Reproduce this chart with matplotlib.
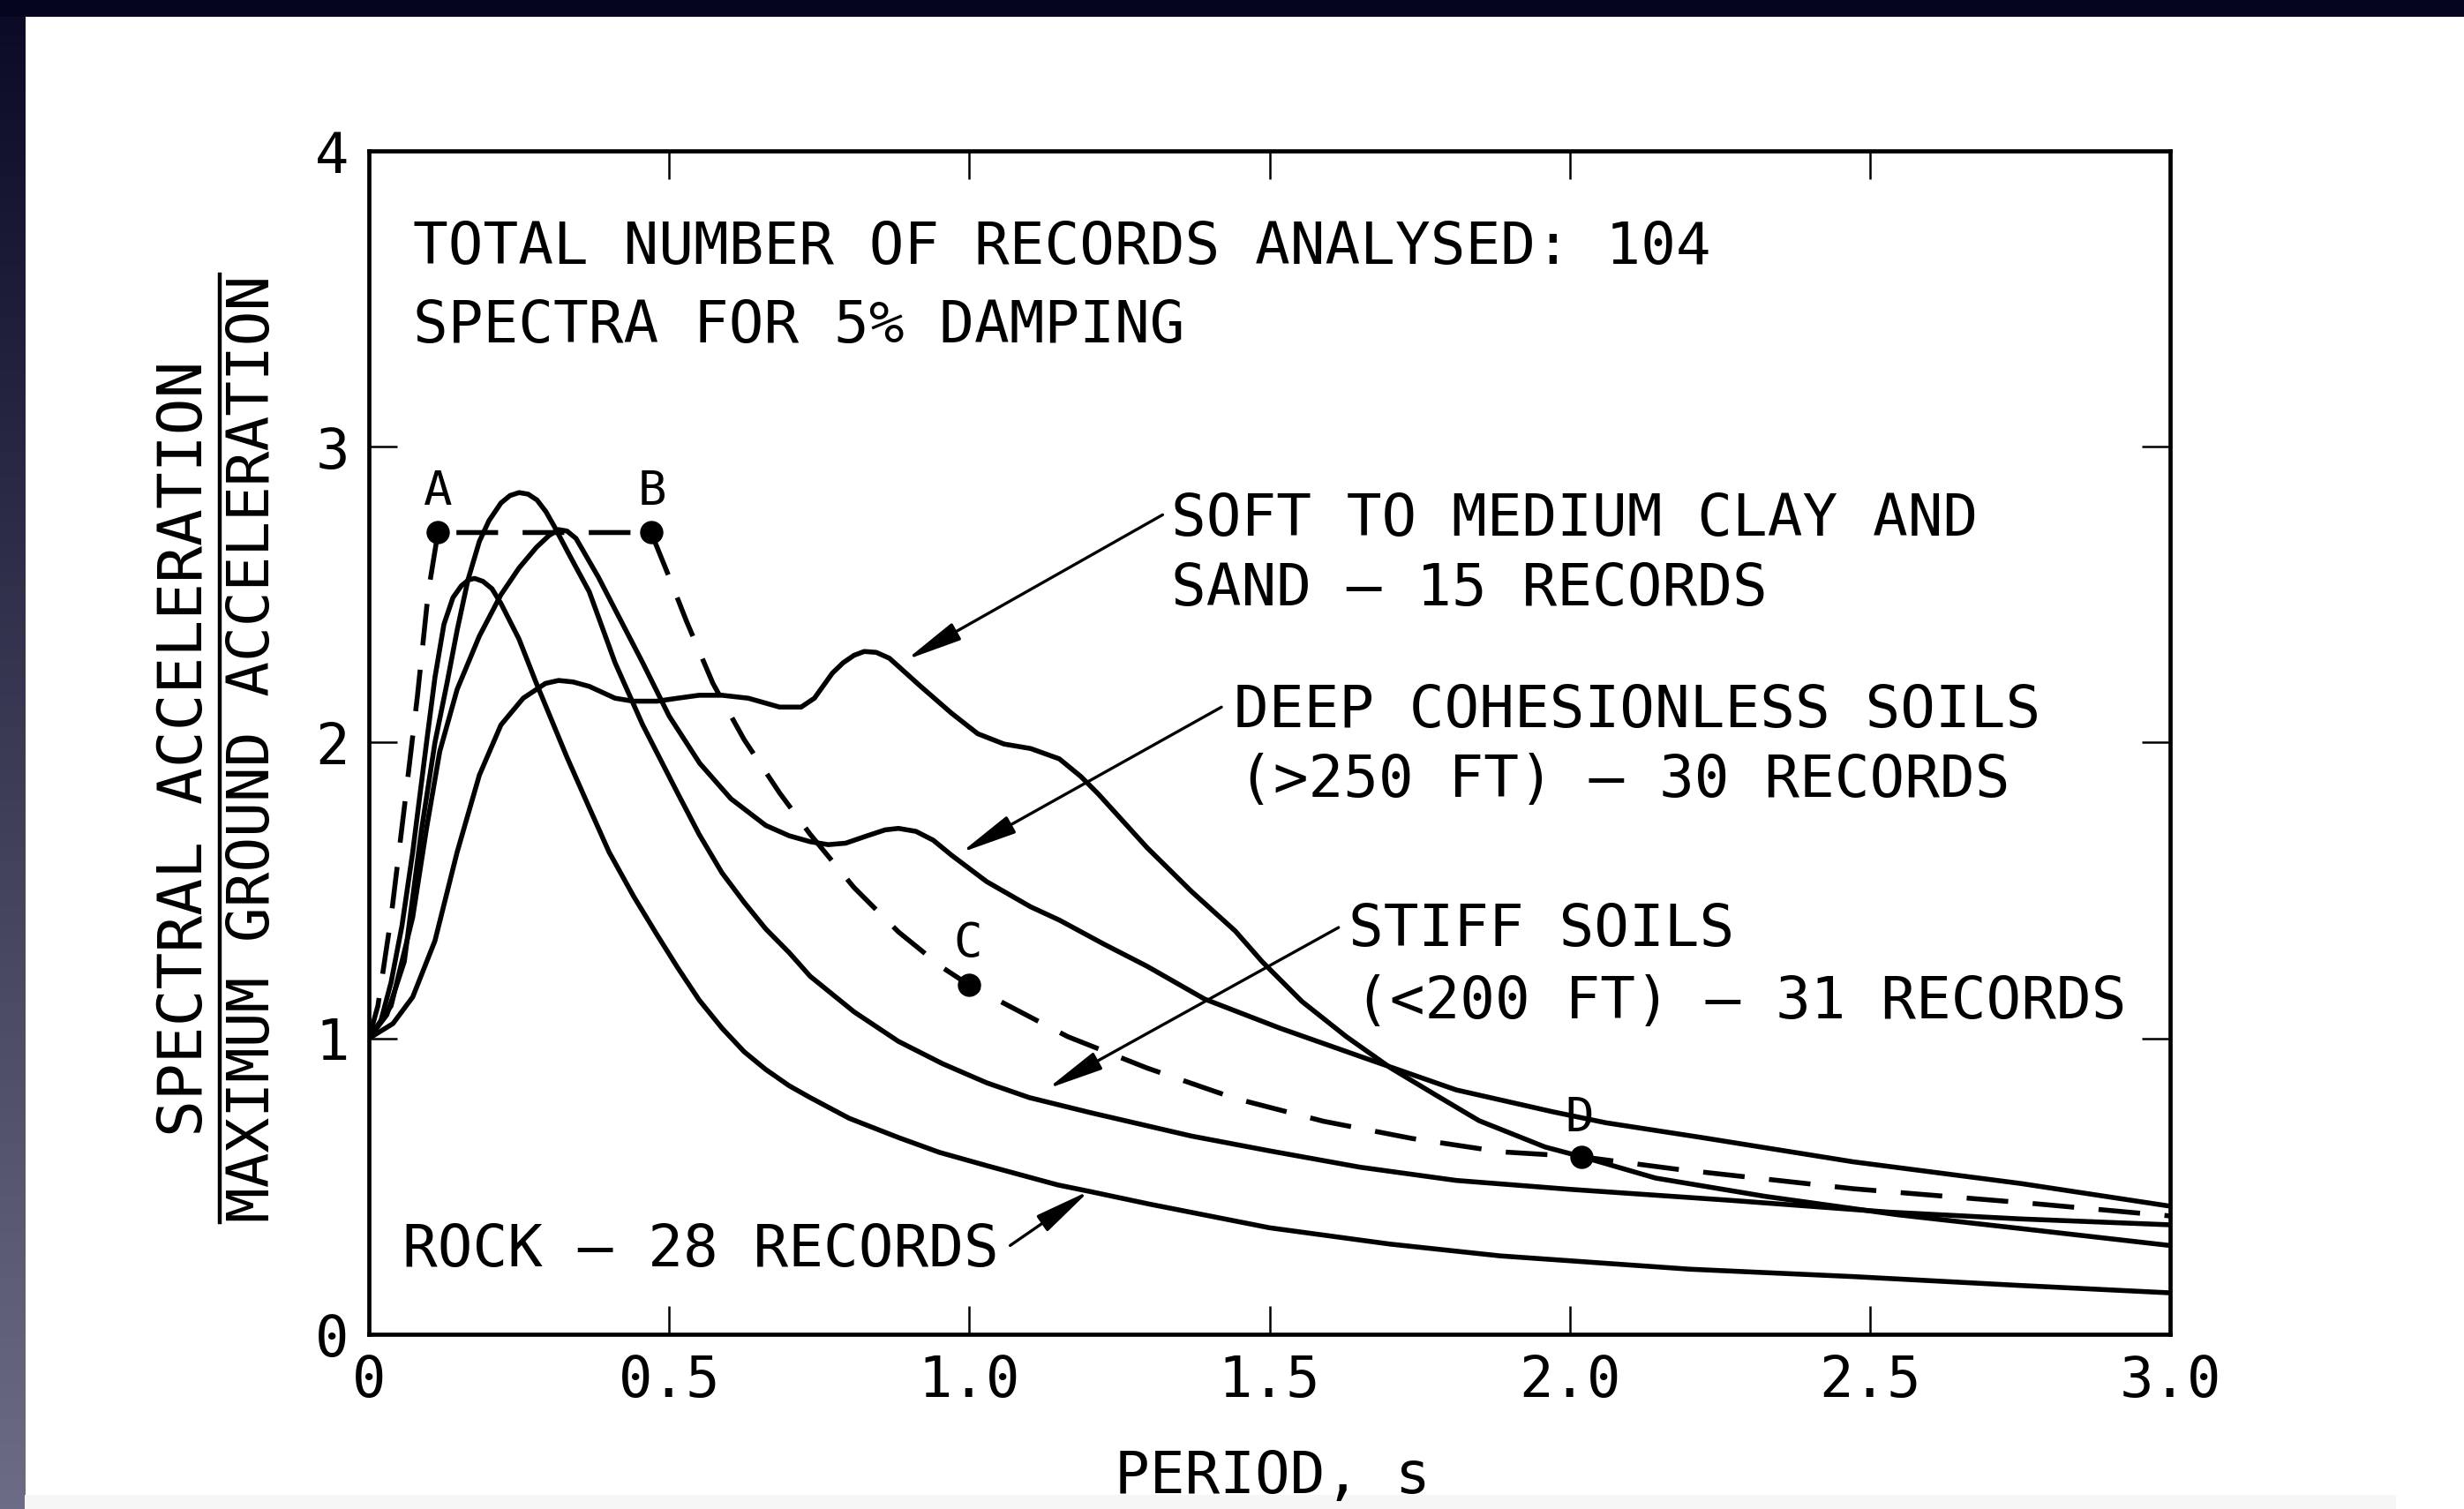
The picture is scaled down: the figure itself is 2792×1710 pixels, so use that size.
import numpy as np
import matplotlib
matplotlib.use("Agg")
import matplotlib.pyplot as plt
from matplotlib.patches import Rectangle
from matplotlib.lines import Line2D

plt.rcParams['font.family'] = ['DejaVu Sans Mono', 'DejaVu Sans']

# ---------------- data ----------------
rock_T = [0, 0.02, 0.037, 0.055, 0.073, 0.096, 0.11, 0.125, 0.14, 0.154, 0.166, 0.176, 0.19,
          0.205, 0.22, 0.25, 0.279, 0.33, 0.367, 0.40, 0.441, 0.48, 0.514, 0.55, 0.588, 0.625,
          0.661, 0.70, 0.735, 0.80, 0.882, 0.95, 1.029, 1.147, 1.2, 1.3, 1.4, 1.5, 1.7, 1.884,
          2.2, 2.472, 2.75, 3.0]
rock_SA = [1.0, 1.06, 1.19, 1.38, 1.63, 2.0, 2.22, 2.40, 2.49, 2.53, 2.55, 2.555, 2.545,
           2.52, 2.47, 2.35, 2.20, 1.95, 1.78, 1.63, 1.48, 1.35, 1.24, 1.13, 1.035, 0.955,
           0.895, 0.84, 0.80, 0.73, 0.665, 0.615, 0.57, 0.505, 0.483, 0.44, 0.40, 0.36, 0.305,
           0.265, 0.22, 0.195, 0.165, 0.14]

stiff_T = [0, 0.03, 0.059, 0.088, 0.11, 0.13, 0.147, 0.165, 0.184, 0.20, 0.22, 0.235, 0.25, 0.265,
           0.28, 0.295, 0.309, 0.335, 0.367, 0.41, 0.456, 0.514, 0.55, 0.588, 0.625, 0.661, 0.70, 0.735,
           0.808, 0.882, 0.955, 1.029, 1.1, 1.2, 1.37, 1.5, 1.65, 1.811, 2.0, 2.266, 2.531,
           2.75, 3.0]
stiff_SA = [1.0, 1.08, 1.26, 1.71, 2.0, 2.2, 2.38, 2.55, 2.68, 2.75, 2.81, 2.835, 2.845, 2.84,
            2.82, 2.78, 2.73, 2.63, 2.51, 2.27, 2.06, 1.83, 1.69, 1.56, 1.46, 1.37, 1.29, 1.21,
            1.09, 0.99, 0.915, 0.85, 0.80, 0.75, 0.67, 0.62, 0.565, 0.52, 0.49, 0.453, 0.413,
            0.39, 0.37]

deep_T = [0, 0.037, 0.073, 0.096, 0.118, 0.147, 0.184, 0.22, 0.25, 0.279, 0.30, 0.316, 0.33,
          0.345, 0.382, 0.41, 0.456, 0.5, 0.551, 0.603, 0.661, 0.70, 0.735, 0.765, 0.794, 0.83,
          0.86, 0.882, 0.911, 0.94, 0.97, 1.029, 1.102, 1.15, 1.223, 1.296, 1.392, 1.517, 1.664, 1.811,
          1.972, 2.06, 2.22, 2.472, 2.75, 3.0]
deep_SA = [1.0, 1.11, 1.41, 1.71, 1.97, 2.18, 2.36, 2.50, 2.59, 2.66, 2.70, 2.72, 2.715,
           2.69, 2.56, 2.45, 2.27, 2.09, 1.93, 1.81, 1.72, 1.685, 1.665, 1.655, 1.66, 1.685,
           1.705, 1.71, 1.70, 1.67, 1.62, 1.53, 1.445, 1.40, 1.32, 1.244, 1.133, 1.035, 0.93, 0.826,
           0.752, 0.715, 0.665, 0.583, 0.51, 0.433]

soft_T = [0, 0.04, 0.073, 0.11, 0.147, 0.184, 0.22, 0.257, 0.294, 0.316, 0.34, 0.367, 0.41, 0.44,
          0.48, 0.514, 0.55, 0.588, 0.632, 0.684, 0.72, 0.742, 0.772, 0.79, 0.808, 0.825, 0.845,
          0.867, 0.919, 0.97, 1.014, 1.058, 1.102, 1.15, 1.186, 1.215, 1.296, 1.37, 1.443, 1.488,
          1.554, 1.628, 1.702, 1.775, 1.849, 1.959, 2.024, 2.143, 2.326, 2.546, 2.766, 3.0]
soft_SA = [1.0, 1.05, 1.14, 1.33, 1.63, 1.89, 2.06, 2.15, 2.20, 2.21, 2.205, 2.19, 2.15, 2.14,
           2.14, 2.15, 2.16, 2.16, 2.15, 2.12, 2.12, 2.15, 2.235, 2.27, 2.295, 2.308, 2.305,
           2.285, 2.19, 2.10, 2.03, 1.995, 1.98, 1.945, 1.885, 1.826, 1.645, 1.497, 1.363, 1.259,
           1.125, 1.006, 0.90, 0.811, 0.722, 0.633, 0.598, 0.528, 0.466, 0.404, 0.354, 0.30]

design_T = [0, 0.015, 0.037, 0.059, 0.081, 0.099, 0.115, 0.47, 0.5, 0.529, 0.573, 0.625, 0.684,
            0.735, 0.808, 0.882, 0.955, 1.0, 1.066, 1.164, 1.296, 1.443, 1.59, 1.737, 1.884, 2.02,
            2.178, 2.472, 2.766, 3.0]
design_SA = [1.0, 1.11, 1.41, 1.78, 2.16, 2.51, 2.71, 2.71, 2.56, 2.41, 2.20, 2.01, 1.83,
             1.69, 1.51, 1.36, 1.24, 1.18, 1.11, 1.006, 0.90, 0.797, 0.72, 0.662, 0.617, 0.600,
             0.558, 0.492, 0.443, 0.40]

point_T = [0.115, 0.47, 1.0, 2.02]
point_SA = [2.71, 2.71, 1.18, 0.60]
point_labels = ['A', 'B', 'C', 'D']

x_ticks = [0, 0.5, 1.0, 1.5, 2.0, 2.5, 3.0]
x_ticklabels = ['0', '0.5', '1.0', '1.5', '2.0', '2.5', '3.0']
y_ticks = [0, 1, 2, 3, 4]
y_ticklabels = ['0', '1', '2', '3', '4']

# ---------------- figure ----------------
W, H = 2792, 1710
fig = plt.figure(figsize=(W / 100, H / 100), dpi=100)
fig.patch.set_facecolor('white')

# slide frame: dark top band, gradient left band, light bottom strip
fig.patches.append(Rectangle((0, 1 - 19 / H), 1, 19 / H, transform=fig.transFigure,
                             facecolor='#05051f', edgecolor='none', zorder=0))
fig.patches.append(Rectangle((28 / W, 0), (2715 - 28) / W, 16 / H, transform=fig.transFigure,
                             facecolor='#f6f6f6', edgecolor='none', zorder=0))
gax = fig.add_axes([0, 0, 28 / W, 1])
grad = np.linspace(0, 1, 256)[:, None]
top_c = np.array([10, 10, 38]) / 255
bot_c = np.array([108, 108, 134]) / 255
img = top_c[None, None, :] * (1 - grad[:, :, None]) + bot_c[None, None, :] * grad[:, :, None]
gax.imshow(img, aspect='auto', extent=[0, 1, 0, 1], origin='upper')
gax.axis('off')

L, R, T, B = 418, 2459, 171, 1512
ax = fig.add_axes([L / W, 1 - B / H, (R - L) / W, (B - T) / H])
ax.set_xlim(0, 3.0)
ax.set_ylim(0, 4)

lw = 4.0
kw = dict(color='black', lw=lw, solid_joinstyle='round', solid_capstyle='round')
ax.plot(rock_T, rock_SA, **kw)
ax.plot(stiff_T, stiff_SA, **kw)
ax.plot(deep_T, deep_SA, **kw)
ax.plot(soft_T, soft_SA, **kw)
ax.plot(design_T, design_SA, color='black', lw=lw, dashes=(8.5, 5.0),
        dash_capstyle='butt')
ax.plot(point_T, point_SA, 'o', color='black', markersize=18)

for spine in ax.spines.values():
    spine.set_linewidth(3.4)

ax.set_xticks(x_ticks)
ax.set_xticklabels(x_ticklabels)
ax.set_yticks(y_ticks)
ax.set_yticklabels(y_ticklabels)
ax.tick_params(direction='in', length=23, width=1.8, top=True, right=True,
               labelsize=46, pad=16)

fs = 47.5
ax.text(0.0735, 3.618, 'TOTAL NUMBER OF RECORDS ANALYSED: 104', fontsize=fs, va='baseline')
ax.text(0.0735, 3.353, 'SPECTRA FOR 5% DAMPING', fontsize=fs, va='baseline')
ax.text(1.336, 2.699, 'SOFT TO MEDIUM CLAY AND', fontsize=fs, va='baseline')
ax.text(1.336, 2.465, 'SAND — 15 RECORDS', fontsize=fs, va='baseline')
ax.text(1.44, 2.051, 'DEEP COHESIONLESS SOILS', fontsize=fs, va='baseline')
ax.text(1.448, 1.817, '(>250 FT) — 30 RECORDS', fontsize=fs, va='baseline')
ax.text(1.632, 1.312, 'STIFF SOILS', fontsize=fs, va='baseline')
ax.text(1.642, 1.068, '(<200 FT) — 31 RECORDS', fontsize=fs, va='baseline')
ax.text(0.056, 0.229, 'ROCK — 28 RECORDS', fontsize=fs, va='baseline')

label_pos = [(0.113, 2.805), (0.472, 2.805), (0.998, 1.276), (2.016, 0.686)]
for (lx, ly), lab in zip(label_pos, point_labels):
    ax.text(lx, ly, lab, fontsize=39, ha='center', va='baseline')

ap = dict(arrowstyle='-|>,head_length=1.3,head_width=0.22', lw=2.4, color='black',
          shrinkA=0, shrinkB=0, mutation_scale=30)
ax.annotate('', xy=(0.895, 2.28), xytext=(1.322, 2.77), arrowprops=ap)
ax.annotate('', xy=(0.986, 1.628), xytext=(1.42, 2.12), arrowprops=ap)
ax.annotate('', xy=(1.13, 0.83), xytext=(1.615, 1.375), arrowprops=ap)
ax.annotate('', xy=(1.2, 0.485), xytext=(1.068, 0.30), arrowprops=ap)

# axis labels
fig.text(1442 / W, 1 - 1692 / H, 'PERIOD, s', fontsize=fs, ha='center', va='baseline')
fig.text(210 / W, 1 - 848 / H, 'SPECTRAL ACCELERATION', fontsize=50, rotation=90,
         ha='center', va='center')
fig.text(287 / W, 1 - 848 / H, 'MAXIMUM GROUND ACCELERATION', fontsize=fs, rotation=90,
         ha='center', va='center')
fig.lines.append(Line2D([249 / W, 249 / W], [1 - 311 / H, 1 - 1385 / H],
                        transform=fig.transFigure, color='black', lw=3.2))

fig.savefig('out.png', dpi=100)
